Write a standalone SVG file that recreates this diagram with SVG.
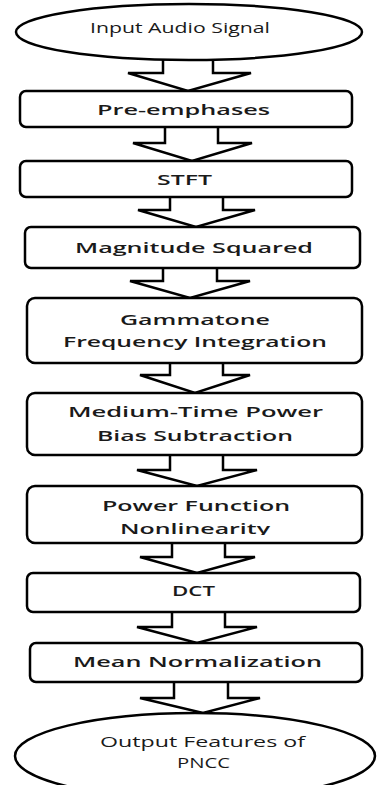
<svg xmlns="http://www.w3.org/2000/svg" width="378" height="785" viewBox="0 0 378 785">
<style>
.n{fill:#fff;stroke:#000;stroke-width:2.5}
.c{fill:#fff;stroke:#000;stroke-width:2.5;stroke-linejoin:miter}
text{font-family:"Open Sans","Liberation Sans",sans-serif;font-size:14px;fill:#1a1a1a;text-anchor:middle;font-weight:600}
text.l{font-weight:400}
</style>
<defs>
<clipPath id="clipNL"><rect x="0" y="515" width="378" height="20"/></clipPath>
</defs>
<rect width="378" height="785" fill="#fff"/>
<g id="connectors">
<path class="c" d="M163,50 V73 H128 L188,91 L251,73 H213 V50"/>
<path class="c" d="M165,120 V143 H133 L192,161 L252,143 H218 V120"/>
<path class="c" d="M170,190 V210 H138 L196,227 L255,210 H223 V190"/>
<path class="c" d="M163,260 V281 H130 L190,298 L250,281 H217 V260"/>
<path class="c" d="M170,355 V375 H140 L195,393 L250,375 H223 V355"/>
<path class="c" d="M170,450 V470 H137 L197,486 L257,470 H223 V450"/>
<path class="c" d="M172,535 V557 H140 L197,573 L255,557 H225 V535"/>
<path class="c" d="M172,605 V627 H137 L197,643 L257,627 H225 V605"/>
<path class="c" d="M174,675 V698 H140 L203,713 L260,698 H228 V675"/>
</g>
<g id="n1">
<ellipse class="n" cx="189" cy="32" rx="173" ry="28"/>
<text class="l" x="180" y="33" textLength="180" lengthAdjust="spacingAndGlyphs">Input Audio Signal</text>
</g>
<g id="n2">
<rect class="n" x="20" y="91" width="332" height="36" rx="6"/>
<text x="183.5" y="115" textLength="173" lengthAdjust="spacingAndGlyphs">Pre-emphases</text>
</g>
<g id="n3">
<rect class="n" x="20" y="161" width="332" height="36" rx="6"/>
<text x="184.5" y="185" textLength="55" lengthAdjust="spacingAndGlyphs">STFT</text>
</g>
<g id="n4">
<rect class="n" x="25" y="227" width="335" height="41" rx="6"/>
<text x="194" y="253" textLength="238" lengthAdjust="spacingAndGlyphs">Magnitude Squared</text>
</g>
<g id="n5">
<rect class="n" x="27" y="298" width="335" height="65" rx="8"/>
<text x="195" y="325" textLength="150" lengthAdjust="spacingAndGlyphs">Gammatone</text>
<text x="195" y="347" textLength="264" lengthAdjust="spacingAndGlyphs">Frequency Integration</text>
</g>
<g id="n6">
<rect class="n" x="27" y="393" width="335" height="62" rx="8"/>
<text x="195.5" y="417" textLength="255" lengthAdjust="spacingAndGlyphs">Medium-Time Power</text>
<text x="195" y="441" textLength="196" lengthAdjust="spacingAndGlyphs">Bias Subtraction</text>
</g>
<g id="n7">
<rect class="n" x="27" y="486" width="335" height="57" rx="8"/>
<text x="196" y="511" textLength="188" lengthAdjust="spacingAndGlyphs">Power Function</text>
<text x="195" y="534" textLength="150" lengthAdjust="spacingAndGlyphs" clip-path="url(#clipNL)">Nonlinearity</text>
</g>
<g id="n8">
<rect class="n" x="27" y="573" width="333" height="39" rx="6"/>
<text x="193.5" y="596" textLength="43" lengthAdjust="spacingAndGlyphs">DCT</text>
</g>
<g id="n9">
<rect class="n" x="30" y="643" width="332" height="39" rx="6"/>
<text x="197.5" y="667" textLength="249" lengthAdjust="spacingAndGlyphs">Mean Normalization</text>
</g>
<g id="n10">
<ellipse class="n" cx="195" cy="756" rx="180" ry="43"/>
<text class="l" x="202.5" y="747" textLength="205" lengthAdjust="spacingAndGlyphs">Output Features of</text>
<text class="l" x="203.5" y="768" textLength="53" lengthAdjust="spacingAndGlyphs">PNCC</text>
</g>
</svg>
